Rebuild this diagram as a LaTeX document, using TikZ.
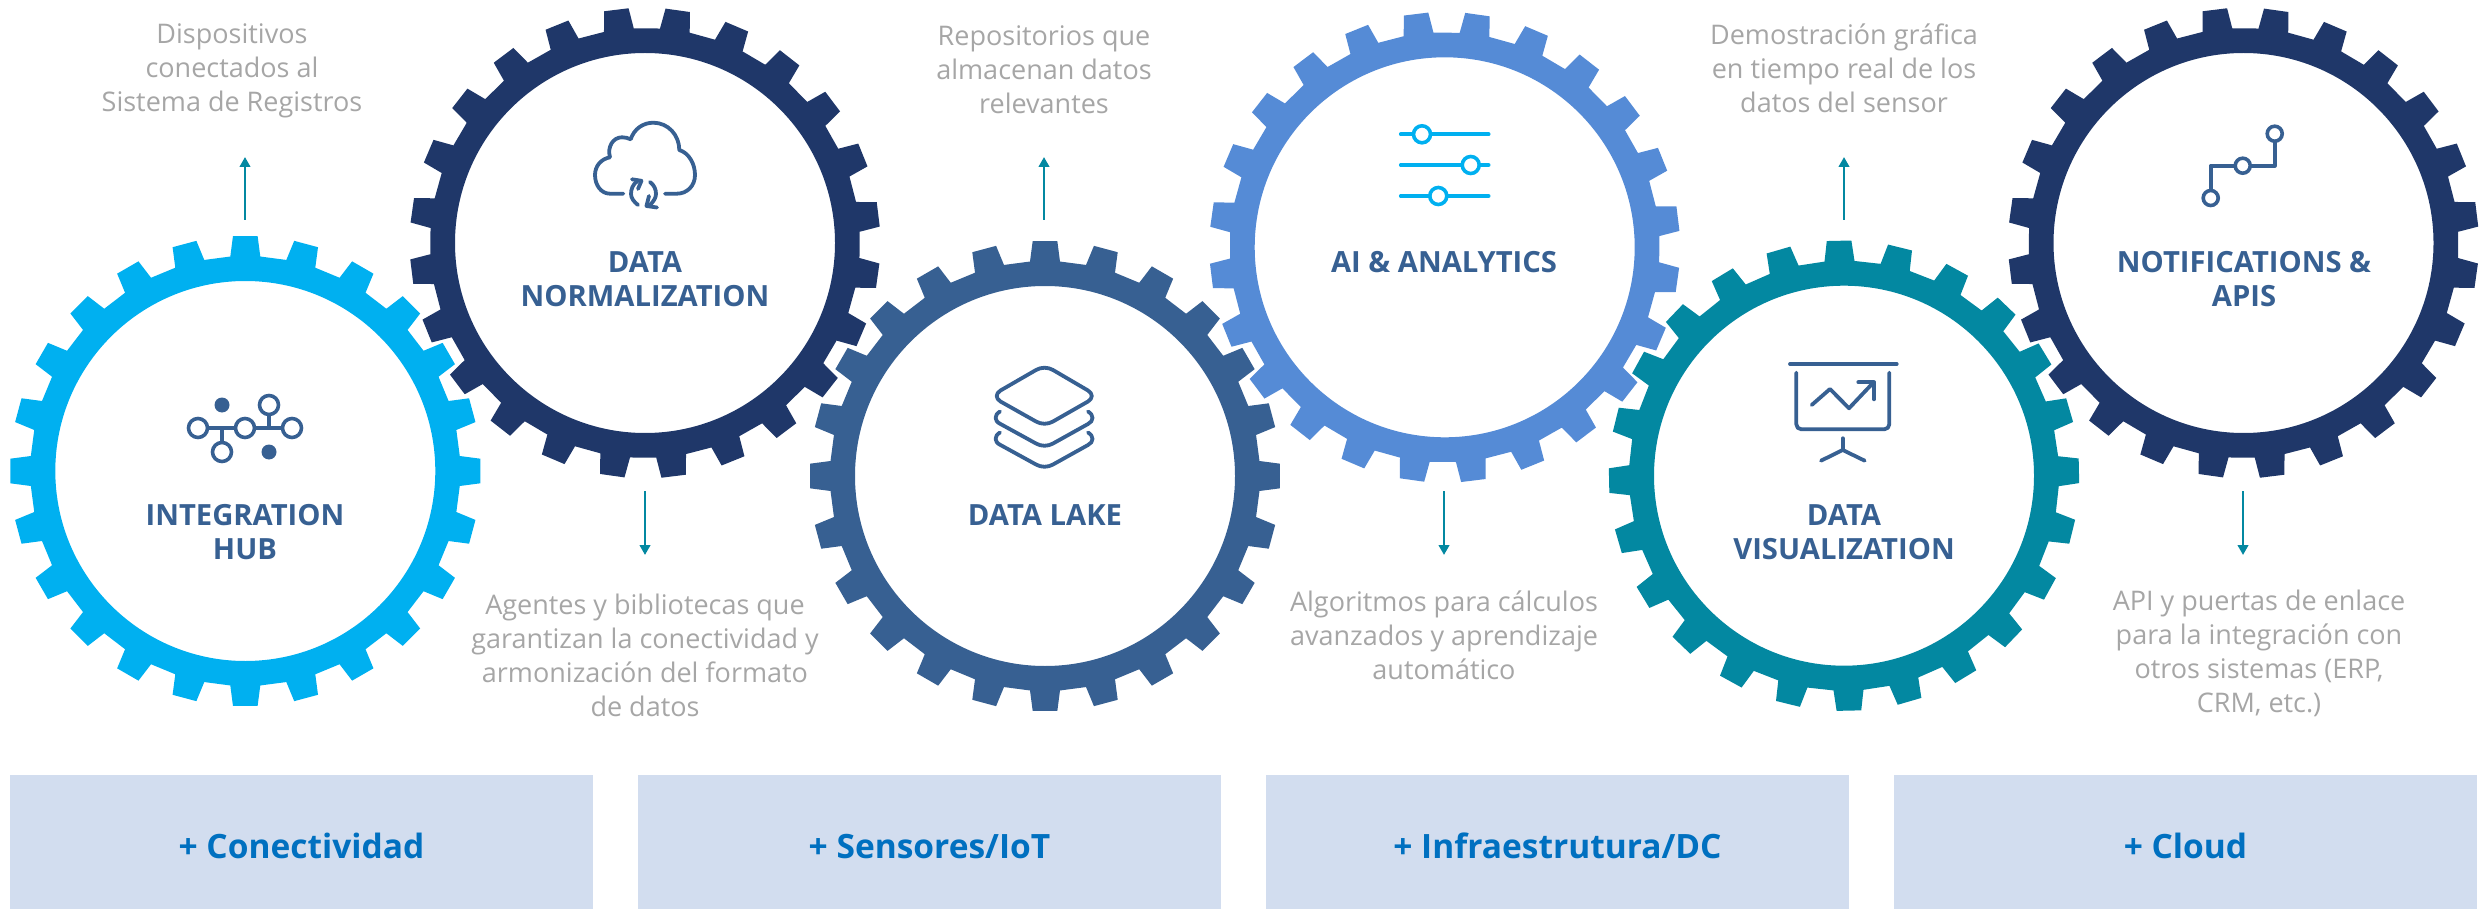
\documentclass[tikz,border=0pt]{standalone}
\usepackage{fontspec}
\setmainfont{Open Sans}
\usetikzlibrary{arrows.meta}
\definecolor{cSky}{HTML}{00B0F0}
\definecolor{cNavy}{HTML}{1F3769}
\definecolor{cSteel}{HTML}{376092}
\definecolor{cMid}{HTML}{558BD6}
\definecolor{cTeal}{HTML}{0388A1}
\definecolor{cGrayT}{HTML}{A6A6A6}
\definecolor{cBox}{HTML}{D2DDEF}
\definecolor{cBoxT}{HTML}{0070C0}
\newcommand{\mygear}[4]{%
  \begin{scope}[shift={(#1,#2)}]
  \fill[#4,even odd rule]
    (#3-4:215)
    \foreach \gi in {0,15,...,345}{
      -- (#3+\gi-4:215) -- (#3+\gi-3:235.3) -- (#3+\gi+3:235.3) -- (#3+\gi+4:215)
    } -- cycle
    (0,0) circle[radius=190];
  \end{scope}}
\newcommand{\boxt}[1]{\raisebox{-16pt}[0pt][0pt]{#1}}
\tikzset{
  desc/.style={font=\fontsize{27}{34}\selectfont,text=cGrayT,align=center,inner sep=0pt},
  gearlabel/.style={font=\fontsize{29.2}{34}\selectfont\bfseries,text=cSteel,align=center,inner sep=0pt},
  boxnode/.style={fill=cBox,minimum width=583pt,minimum height=134pt,inner sep=0pt,font=\fontsize{33.5}{40}\selectfont\bfseries,text=cBoxT},
  flow/.style={cTeal,line width=2.6pt,-{Triangle[length=10pt,width=10.5pt]}},
  ico/.style={cSteel,line width=3.8pt,line cap=round,line join=round},
  icosky/.style={cSky,line width=3.6pt,line cap=round},
  icodot/.style={circle,draw=cSteel,fill=white,line width=3.6pt,inner sep=0pt,minimum size=19pt},
  icofill/.style={circle,fill=cSteel,inner sep=0pt,minimum size=15pt},
  skydot/.style={circle,draw=cSky,fill=white,line width=3.6pt,inner sep=0pt,minimum size=17pt},
  smalldot/.style={circle,draw=cSteel,fill=white,line width=3.6pt,inner sep=0pt,minimum size=15pt}
}
\begin{document}
\begin{tikzpicture}[x=1pt,y=-1pt]
\useasboundingbox (0,0) rectangle (2479,909);
% gears
\mygear{245.3}{471}{0}{cSky}
\mygear{645}{243}{8}{cNavy}
\mygear{1045}{476}{0}{cSteel}
\mygear{1444.7}{247.3}{8}{cMid}
\mygear{1844}{475.7}{-1.2}{cTeal}
\mygear{2243.5}{243}{8}{cNavy}
% gear labels
\node[gearlabel] (l1) at (245,532) {INTEGRATION\\HUB};
\node[gearlabel] (l2) at (645,279) {DATA\\NORMALIZATION};
\node[gearlabel] (l3) at (1045,515) {DATA LAKE};
\node[gearlabel] (l4) at (1444,262) {AI \& ANALYTICS};
\node[gearlabel] (l5) at (1844,532) {DATA\\VISUALIZATION};
\node[gearlabel] (l6) at (2244,279) {NOTIFICATIONS \&\\APIS};
% descriptions
\node[desc] (d1) at (232,70.5) {Dispositivos\\conectados al\\Sistema de Registros};
\node[desc] (d2) at (645,655) {Agentes y bibliotecas que\\garantizan la conectividad y\\armonización del formato\\de datos};
\node[desc] (d3) at (1044,70) {Repositorios que\\almacenan datos\\relevantes};
\node[desc] (d4) at (1444,635) {Algoritmos para cálculos\\avanzados y aprendizaje\\automático};
\node[desc] (d5) at (1844,68) {Demostración gráfica\\en tiempo real de los\\datos del sensor};
\node[desc] (d6) at (2259,653) {API y puertas de enlace\\para la integración con\\otros sistemas (ERP,\\CRM, etc.)};
% arrows
\coordinate (a1s) at (245,220); \coordinate (a1e) at (245,157);
\coordinate (a2s) at (645,491); \coordinate (a2e) at (645,555);
\coordinate (a3s) at (1044,220); \coordinate (a3e) at (1044,157);
\coordinate (a4s) at (1444,491); \coordinate (a4e) at (1444,555);
\coordinate (a5s) at (1844,220); \coordinate (a5e) at (1844,157);
\coordinate (a6s) at (2243,491); \coordinate (a6e) at (2243,555);
\draw[flow] (a1s) -- (a1e);
\draw[flow] (a2s) -- (a2e);
\draw[flow] (a3s) -- (a3e);
\draw[flow] (a4s) -- (a4e);
\draw[flow] (a5s) -- (a5e);
\draw[flow] (a6s) -- (a6e);
% boxes
\node[boxnode] (b1) at (301.5,842) {\boxt{+ Conectividad}};
\node[boxnode] (b2) at (929.5,842) {\boxt{+ Sensores/IoT}};
\node[boxnode] (b3) at (1557.5,842) {\boxt{+ Infraestrutura/DC}};
\node[boxnode] (b4) at (2185.5,842) {\boxt{+ Cloud}};
% icon 1: hub
\draw[ico] (198,428) -- (292,428) (222,428) -- (222,452) (269,428) -- (269,405);
\node[icodot] (h1) at (198,428) {};
\node[icodot] (h2) at (245,428) {};
\node[icodot] (h3) at (292,428) {};
\node[icodot] (h4) at (269,405) {};
\node[icodot] (h5) at (222,452) {};
\node[icofill] (h6) at (222,405) {};
\node[icofill] (h7) at (269,452) {};
% icon 2: cloud
\draw[ico] (623.3,193.7) -- (610,193.7)
  .. controls (601,193.7) and (595,185) .. (595,175)
  .. controls (595,166) and (601,159) .. (610,157.3)
  .. controls (607,147) and (613,137.3) .. (622,137.3)
  .. controls (625,137.3) and (628,138) .. (630.7,139.3)
  .. controls (634,129) and (643,122.7) .. (653.3,122.7)
  .. controls (668,122.7) and (679.3,135) .. (679.3,150)
  .. controls (689,153) and (695,164) .. (695,175)
  .. controls (695,186) and (687,193.7) .. (676.7,193.7)
  -- (665,193.7);
\draw[ico] (637.5,181) .. controls (633,184) and (631,189) .. (631,194) .. controls (631,198) and (634,202) .. (638,205);
\draw[ico] (632,179.3) -- (641.5,180.8) -- (638,189);
\draw[ico] (650,182) .. controls (654,185) and (656,189) .. (656,194) .. controls (656,198) and (653,202) .. (650,205);
\draw[ico] (657,207.5) -- (646.5,206) -- (649,196);
% icon 3: layers
\draw[ico] (1036,370) .. controls (1041,367) and (1048,367) .. (1053,370) -- (1088,390.5)
  .. controls (1093,393.5) and (1093,398.5) .. (1088,401.5) -- (1053,421.5)
  .. controls (1048,424.5) and (1041,424.5) .. (1036,421.5) -- (1000.5,401.5)
  .. controls (995.5,398.5) and (995.5,393.5) .. (1000.5,390.5) -- cycle;
\draw[ico] (1000,411.5) .. controls (994,415) and (994,421) .. (1000.5,424) -- (1036,443.5)
  .. controls (1041,446.5) and (1048,446.5) .. (1053,443.5) -- (1088,424)
  .. controls (1094,421) and (1094,415) .. (1088,411.5);
\draw[ico] (1000,432.5) .. controls (994,436) and (994,442) .. (1000.5,445) -- (1036,464.5)
  .. controls (1041,467.5) and (1048,467.5) .. (1053,464.5) -- (1088,445)
  .. controls (1094,442) and (1094,436) .. (1088,432.5);
% icon 4: sliders
\draw[icosky] (1400.7,134.3) -- (1488.7,134.3);
\draw[icosky] (1400.7,165) -- (1488.7,165);
\draw[icosky] (1400.7,196) -- (1488.7,196);
\node[skydot] (s1) at (1422,134.3) {};
\node[skydot] (s2) at (1470.7,165) {};
\node[skydot] (s3) at (1438.3,196) {};
% icon 5: board
\draw[ico] (1790,364) -- (1896.7,364);
\draw[ico,rounded corners=5pt] (1796.3,372.7) -- (1796.3,429.3) -- (1889.3,429.3) -- (1889.3,372.7);
\draw[ico] (1811.7,405) -- (1830,389) -- (1849,408.3) -- (1873.3,382.6);
\draw[ico] (1858.3,382.3) -- (1874,382.3) -- (1874,399.3);
\draw[ico] (1842.7,438.3) -- (1842.7,450);
\draw[ico] (1821,460.7) -- (1842.7,450) -- (1864.7,460.7);
% icon 6: path
\draw[ico] (2210.7,198) -- (2210.7,165.7) -- (2274.7,165.7) -- (2274.7,133.7);
\node[smalldot] (p1) at (2210.7,198) {};
\node[smalldot] (p2) at (2242.7,165.7) {};
\node[smalldot] (p3) at (2274.7,133.7) {};
\end{tikzpicture}
\end{document}
